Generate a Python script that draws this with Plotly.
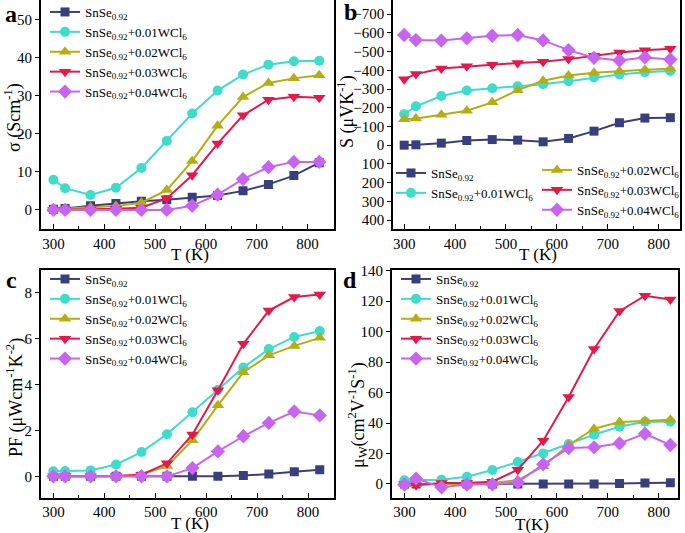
import plotly.graph_objects as go

T = [300, 323, 373, 423, 473, 523, 573, 623, 673, 723, 773, 823]

names = ["SnSe<sub>0.92</sub>",
         "SnSe<sub>0.92</sub>+0.01WCl<sub>6</sub>",
         "SnSe<sub>0.92</sub>+0.02WCl<sub>6</sub>",
         "SnSe<sub>0.92</sub>+0.03WCl<sub>6</sub>",
         "SnSe<sub>0.92</sub>+0.04WCl<sub>6</sub>"]

# (a) electrical conductivity, S/cm
sigma_0 = [0.2, 0.4, 1.1, 1.7, 2.3, 2.7, 3.3, 3.8, 5.0, 6.7, 9.0, 12.4]
sigma_1 = [7.9, 5.7, 3.9, 5.8, 11.0, 18.1, 25.3, 31.3, 35.5, 38.1, 39.0, 39.1]
sigma_2 = [0.2, 0.4, 0.7, 1.0, 1.9, 5.2, 12.8, 22.1, 29.6, 33.3, 34.5, 35.3]
sigma_3 = [0.0, 0.1, 0.2, 0.3, 0.6, 3.0, 9.1, 17.4, 24.8, 28.9, 29.7, 29.4]
sigma_4 = [0.0, 0.0, 0.0, 0.0, 0.0, 0.0, 1.1, 4.0, 8.1, 11.2, 12.6, 12.6]

# (b) Seebeck coefficient, uV/K
S_0 = [0, -2, -11, -25, -30, -27, -18, -36, -75, -120, -145, -147]
S_1 = [-166, -208, -263, -292, -304, -315, -326, -342, -362, -378, -390, -397]
S_2 = [-138, -143, -163, -184, -229, -294, -344, -372, -387, -396, -403, -408]
S_3 = [-353, -380, -410, -422, -430, -439, -446, -460, -478, -496, -507, -516]
S_4 = [-589, -562, -559, -571, -585, -589, -560, -508, -467, -453, -469, -458]

# (c) power factor, uW cm^-1 K^-2
PF_0 = [0, 0, 0, 0, 0, 0, 0, 0, 0.04, 0.1, 0.2, 0.29]
PF_1 = [0.22, 0.23, 0.26, 0.52, 1.06, 1.84, 2.8, 3.78, 4.75, 5.55, 6.08, 6.34]
PF_2 = [0, 0, 0, 0.01, 0.08, 0.45, 1.57, 3.1, 4.54, 5.28, 5.69, 6.04]
PF_3 = [0, 0, 0, 0.02, 0.07, 0.57, 1.83, 3.76, 5.78, 7.23, 7.82, 7.93]
PF_4 = [0, 0, 0, 0, 0, 0, 0.36, 1.09, 1.75, 2.33, 2.83, 2.66]

# (d) weighted mobility, cm^2 V^-1 s^-1
mu_0 = [0, 0, 0, 0, 0, 0, 0, 0, 0, 0.4, 0.6, 0.8]
mu_1 = [2.4, 2.4, 2.8, 4.8, 9.2, 14.4, 20.1, 26.3, 32.4, 37.6, 40.9, 40.9]
mu_2 = [-0.2, -0.2, 0, 0, 0.7, 2.6, 11.6, 25.6, 36.3, 40.7, 41.3, 42.2]
mu_3 = [0, -0.9, 0.7, 0.7, 1.5, 9.4, 28.4, 57.1, 88.6, 113.5, 123.6, 121.2]
mu_4 = [-0.4, 3.5, -2.2, -0.4, -0.2, 1.1, 12.9, 23.6, 24.1, 26.7, 33.0, 25.6]

colors = ["#393f7c", "#3ddccb", "#b5ae10", "#e6174b", "#c864f2"]
symbols = ["square", "circle", "triangle-up", "triangle-down", "diamond"]
msizes = [9, 10, 11, 11, 11]

FONT = "Liberation Serif, Times New Roman, serif"
W, H = 685, 533

def px_x(p):
    return p / W

def px_y(p):
    return 1 - p / H

fig = go.Figure()

panels = [
    ("x", "y", [sigma_0, sigma_1, sigma_2, sigma_3, sigma_4], ["legend"] * 5),
    ("x2", "y2", [S_0, S_1, S_2, S_3, S_4], ["legend2", "legend2", "legend3", "legend3", "legend3"]),
    ("x3", "y3", [PF_0, PF_1, PF_2, PF_3, PF_4], ["legend4"] * 5),
    ("x4", "y4", [mu_0, mu_1, mu_2, mu_3, mu_4], ["legend5"] * 5),
]

for xa, ya, series, legs in panels:
    for i, vals in enumerate(series):
        fig.add_trace(go.Scatter(
            x=T, y=vals, name=names[i], mode="lines+markers",
            xaxis=xa, yaxis=ya, legend=legs[i],
            line=dict(color=colors[i], width=2),
            marker=dict(symbol=symbols[i], size=msizes[i], color=colors[i]),
        ))

axis_common = dict(
    showline=True, linecolor="black", linewidth=1.5, mirror=True,
    showgrid=False, zeroline=False,
    tickfont=dict(family=FONT, size=15, color="black"),
)
xcommon = dict(axis_common, ticks="inside", ticklen=5, tickwidth=1.2, tickcolor="black",
               tickvals=[300, 400, 500, 600, 700, 800],
               minor=dict(ticks="inside", ticklen=3, tickwidth=1, tickcolor="black", dtick=50))
ycommon = dict(axis_common, ticks="outside", ticklen=4, tickwidth=1.2, tickcolor="black")

dom_a_x = [px_x(40.7), px_x(333.5)]
dom_b_x = [px_x(393), px_x(680)]
dom_c_x = [px_x(40.7), px_x(334)]
dom_d_x = [px_x(391.7), px_x(678)]
dom_top_y = [px_y(229), px_y(0)]
dom_bot_y = [px_y(497.7), px_y(270)]

fig.update_layout(
    width=W, height=H, margin=dict(l=0, r=0, t=0, b=0, autoexpand=False),
    paper_bgcolor="white", plot_bgcolor="white",
    font=dict(family=FONT, color="black"),
    xaxis=dict(xcommon, domain=dom_a_x, range=[275, 851], anchor="y"),
    yaxis=dict(ycommon, domain=dom_top_y, range=[-5, 55.05], tickvals=[0, 10, 20, 30, 40, 50], anchor="x"),
    xaxis2=dict(xcommon, domain=dom_b_x, range=[278, 842], anchor="y2"),
    yaxis2=dict(ycommon, domain=dom_top_y, range=[448, -776],
                tickvals=list(range(-700, 401, 100)), anchor="x2"),
    xaxis3=dict(xcommon, domain=dom_c_x, range=[275, 851], anchor="y3"),
    yaxis3=dict(ycommon, domain=dom_bot_y, range=[-0.93, 9.0], tickvals=[0, 2, 4, 6, 8], anchor="x3"),
    xaxis4=dict(xcommon, domain=dom_d_x, range=[275, 838], anchor="y4"),
    yaxis4=dict(ycommon, domain=dom_bot_y, range=[-9, 140.5],
                tickvals=[0, 20, 40, 60, 80, 100, 120, 140], anchor="x4"),
)

leg_common = dict(bgcolor="rgba(0,0,0,0)", borderwidth=0, xanchor="left", yanchor="top",
                  font=dict(family=FONT, size=13, color="black"), tracegroupgap=0,
                  itemwidth=30)
fig.update_layout(
    legend=dict(leg_common, x=px_x(45), y=px_y(-3)),
    legend2=dict(leg_common, x=px_x(391), y=px_y(158)),
    legend3=dict(leg_common, x=px_x(537), y=px_y(155)),
    legend4=dict(leg_common, x=px_x(45), y=px_y(264)),
    legend5=dict(leg_common, x=px_x(396), y=px_y(264)),
)

def ann(text, x, y, size=17, angle=0, bold=False):
    if bold:
        text = "<b>" + text + "</b>"
    fig.add_annotation(text=text, x=px_x(x), y=px_y(y), xref="paper", yref="paper",
                       showarrow=False, textangle=angle,
                       font=dict(family=FONT, size=size, color="black"),
                       xanchor="center", yanchor="middle")

# axis titles
ann("T (K)", 190, 255)
ann("T (K)", 538, 255)
ann("T (K)", 190, 523)
ann("T(K)", 532, 524)
ann("σ (Scm<sup>-1</sup>)", 13, 118, size=18, angle=-90)
ann("S (μVK<sup>-1</sup>)", 346, 112, size=18, angle=-90)
ann("PF (μWcm<sup>-1</sup>K<sup>-2</sup>)", 15, 398, size=18, angle=-90)
ann("μ<sub>W</sub>(cm<sup>2</sup>V<sup>-1</sup>S<sup>-1</sup>)", 357, 415, size=18, angle=-90)

# panel labels
ann("a", 11, 14, size=24, bold=True)
ann("b", 350, 12, size=24, bold=True)
ann("c", 11, 280, size=24, bold=True)
ann("d", 350, 280, size=24, bold=True)

fig.write_html("out.html", config={"displayModeBar": False},
               post_script="document.body.style.margin='0';document.body.style.padding='0';")
